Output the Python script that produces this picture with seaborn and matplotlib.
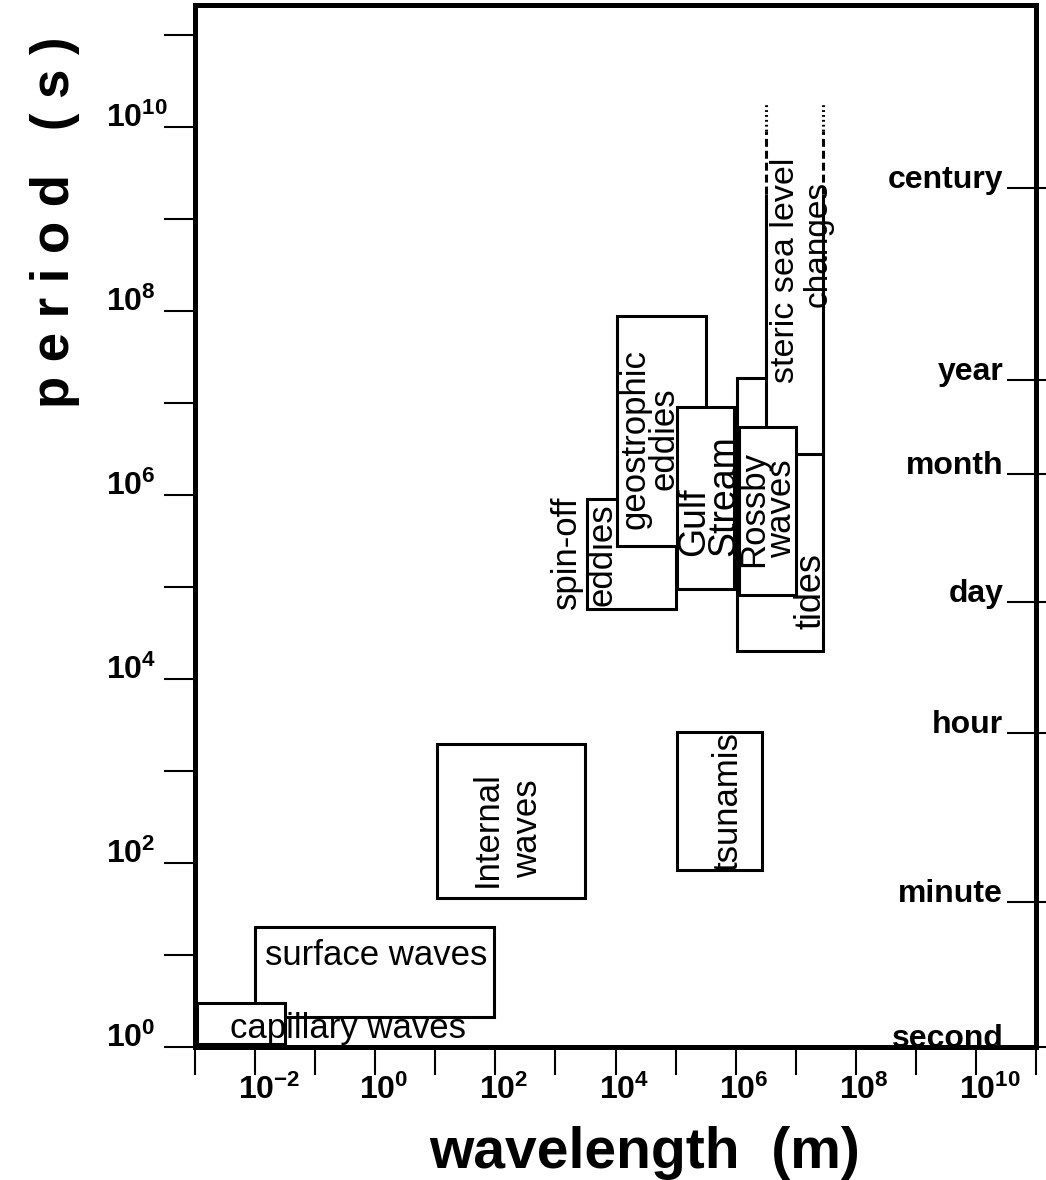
import numpy as np
import pandas as pd
import seaborn as sns
import matplotlib
matplotlib.use("Agg")
import matplotlib.pyplot as plt
from matplotlib.patches import Rectangle
from matplotlib.ticker import FixedLocator, NullLocator
import matplotlib.transforms as mtransforms

# ---------------- data ----------------
phenomena = ["surface waves", "capillary waves", "Internal waves", "tsunamis",
             "spin-off eddies", "geostrophic eddies", "Gulf Stream", "tides",
             "steric sea level changes", "Rossby waves"]
wavelength_min = [1.0e-2, 1.1e-3, 1.05e1, 1.05e5, 3.4e3, 1.05e4, 1.05e5, 1.07e6, 3.2e6, 1.12e6]
wavelength_max = [9.5e1, 3.2e-2, 3.1e3, 2.7e6, 1.0e5, 3.2e5, 9.3e5, 2.9e7, 2.9e7, 1.0e7]
period_min = [2.1, 1.08, 42.0, 85.0, 5.8e4, 2.8e5, 9.5e4, 2.0e4, 2.8e6, 8.3e4]
period_max = [20.0, 3.0, 1950.0, 2630.0, 9.1e5, 8.9e7, 9.1e6, 1.9e7, 1.9e9, 5.5e6]
steric_dashed_top = 9.1e9
steric_dotted_top = 1.8e10

x_tick_exponents = list(range(-3, 12))
x_label_exponents = [-2, 0, 2, 4, 6, 8, 10]
y_tick_exponents = list(range(0, 12))
y_label_exponents = [0, 2, 4, 6, 8, 10]
time_names = ["century", "year", "month", "day", "hour", "minute", "second"]
time_seconds = [2.2e9, 1.78e7, 1.7e6, 6.9e4, 2.57e3, 38.0, 1.0]

df = pd.DataFrame({"name": phenomena, "wl_min": wavelength_min, "wl_max": wavelength_max,
                   "p_min": period_min, "p_max": period_max})

# ---------------- style ----------------
sns.set_theme(style="white")
plt.rcParams["font.family"] = ["Liberation Sans", "DejaVu Sans"]
plt.rcParams["text.color"] = "black"
plt.rcParams["mathtext.fontset"] = "custom"
plt.rcParams["mathtext.rm"] = "Liberation Sans"
plt.rcParams["mathtext.bf"] = "Liberation Sans:bold"
plt.rcParams["mathtext.it"] = "Liberation Sans:italic"

fig = plt.figure(figsize=(10.46, 11.8), dpi=100)
ax = fig.add_axes([195 / 1046, 1 - 1047 / 1180, (1036 - 195) / 1046, (1047 - 5) / 1180])
ax.set_xscale("log")
ax.set_yscale("log")
ax.set_xlim(10.0 ** -3, 10.0 ** 11)
ax.set_ylim(1.0, 10.0 ** 11.33)
ax.set_facecolor("white")

for s in ax.spines.values():
    s.set_color("black")
    s.set_linewidth(3.6)

ax.xaxis.set_major_locator(FixedLocator([10.0 ** e for e in x_tick_exponents]))
ax.xaxis.set_minor_locator(NullLocator())
ax.yaxis.set_major_locator(FixedLocator([10.0 ** e for e in y_tick_exponents]))
ax.yaxis.set_minor_locator(NullLocator())
ax.tick_params(axis="x", which="major", direction="out", length=20, width=1.5,
               color="black", labelbottom=False, bottom=True)
ax.tick_params(axis="y", which="major", direction="out", length=22, width=1.5,
               color="black", labelleft=False, left=True)

# tick labels
xt = mtransforms.blended_transform_factory(ax.transData, ax.transAxes)
for e in x_label_exponents:
    ax.annotate(r"$\mathbf{10}^{\mathbf{%d}}$" % e, xy=(10.0 ** e, 0), xycoords=xt,
                xytext=(-12, -20), textcoords="offset points", ha="left", va="top",
                fontsize=23, color="black", annotation_clip=False)
yt = mtransforms.blended_transform_factory(ax.transAxes, ax.transData)
for e in y_label_exponents:
    ax.annotate(r"$\mathbf{10}^{\mathbf{%d}}$" % e, xy=(0, 10.0 ** e), xycoords=yt,
                xytext=(-64, 0), textcoords="offset points", ha="left", va="baseline",
                fontsize=23, color="black", annotation_clip=False)

# right time axis
ax2 = ax.twinx()
ax2.set_yscale("log")
ax2.set_ylim(ax.get_ylim())
for s in ax2.spines.values():
    s.set_visible(False)
ax2.yaxis.set_major_locator(FixedLocator(time_seconds))
ax2.yaxis.set_minor_locator(NullLocator())
ax2.tick_params(axis="y", which="major", direction="inout", length=41.8, width=1.5,
                color="black", labelright=False, right=True)
for name, t in zip(time_names, time_seconds):
    ax.text(0.961, t, name, transform=yt, ha="right", va="baseline",
            fontsize=23, fontweight="bold", color="black", zorder=30)

# ---------------- boxes ----------------
lw_box = 2.2
for i, r in df.iterrows():
    z = 3 + i
    if r["name"].startswith("steric"):
        ax.add_patch(Rectangle((r.wl_min, r.p_min), r.wl_max - r.wl_min, r.p_max - r.p_min,
                               facecolor="white", edgecolor="none", zorder=z))
        ax.plot([r.wl_min, r.wl_min, r.wl_max, r.wl_max], [r.p_max, r.p_min, r.p_min, r.p_max],
                color="black", lw=lw_box, zorder=z + 0.1, solid_capstyle="butt")
        for xv in (r.wl_min, r.wl_max):
            ax.plot([xv, xv], [r.p_max, steric_dashed_top], color="black", lw=lw_box,
                    dashes=(2.6, 1.3), zorder=z + 0.1)
            ax.plot([xv, xv], [steric_dashed_top, steric_dotted_top], color="black", lw=lw_box,
                    dashes=(0.6, 1.0), zorder=z + 0.1)
    else:
        ax.add_patch(Rectangle((r.wl_min, r.p_min), r.wl_max - r.wl_min, r.p_max - r.p_min,
                               facecolor="white", edgecolor="black", lw=lw_box, zorder=z))

# ---------------- labels ----------------
fs = 25
lab = dict(color="black", zorder=40)
ax.text(10 ** -1.83, 10 ** 0.89, "surface waves", ha="left", va="baseline", fontsize=fs, **lab)
ax.text(10 ** -2.41, 10 ** 0.10, "capillary waves", ha="left", va="baseline", fontsize=fs, **lab)
ax.text(10 ** 2.2, 10 ** 2.37, "Internal\nwaves", rotation=90, ha="center", va="center",
        fontsize=fs, linespacing=1.25, **lab)
ax.text(10 ** 5.87, 10 ** 2.67, "tsunamis", rotation=90, ha="center", va="center", fontsize=fs, **lab)
ax.text(10 ** 3.18, 10 ** 5.38, "spin-off", rotation=90, ha="center", va="center", fontsize=fs, **lab)
ax.text(10 ** 3.77, 10 ** 5.35, "eddies", rotation=90, ha="center", va="center", fontsize=fs, **lab)
ax.text(10 ** 4.57, 10 ** 6.61, "geostrophic\neddies", rotation=90, ha="center", va="center",
        fontsize=fs, linespacing=0.85, **lab)
ax.text(10 ** 5.56, 10 ** 5.34, "Gulf\nStream", rotation=90, ha="center", va="bottom",
        multialignment="left", fontsize=27, linespacing=0.8, **lab)
ax.text(10 ** 6.53, 10 ** 5.85, "Rossby\nwaves", rotation=90, ha="center", va="center",
        fontsize=fs, linespacing=0.8, **lab)
ax.text(10 ** 7.26, 10 ** 4.96, "tides", rotation=90, ha="center", va="center", fontsize=26, **lab)
ax.text(10 ** 6.83, 10 ** 8.45, "steric sea level", rotation=90, ha="center", va="center",
        fontsize=24.5, **lab)
ax.text(10 ** 7.37, 10 ** 8.73, "changes", rotation=90, ha="center", va="center", fontsize=24, **lab)

# axis titles
fig.text(55 / 1046, 1 - 222 / 1180, "p e r i o d   ( s )", rotation=90, ha="center", va="center",
         fontsize=38, fontweight="bold", color="black")
fig.text(645 / 1046, 1 - 1168 / 1180, "wavelength  (m)", ha="center", va="baseline",
         fontsize=41, fontweight="bold", color="black")

fig.savefig("out.png", dpi=100, facecolor="white")
